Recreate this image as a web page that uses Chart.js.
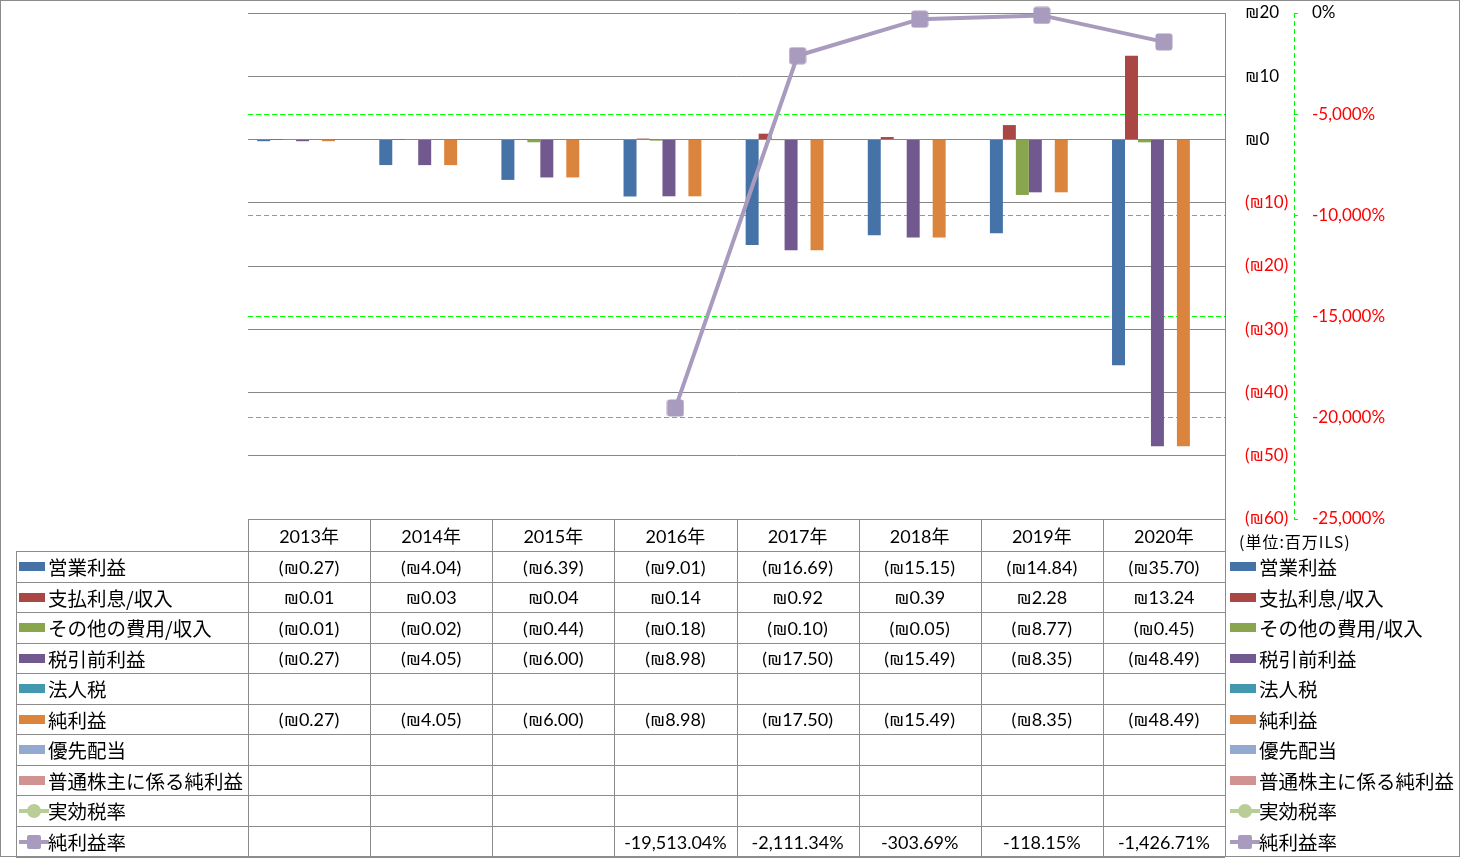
<!DOCTYPE html>
<html>
<head>
<meta charset="utf-8">
<script src="https://cdn.jsdelivr.net/npm/chart.js@4.4.1/dist/chart.umd.min.js"></script>
<style>
html, body { margin: 0; padding: 0; background: #fff; }
#wrap { position: relative; width: 1461px; height: 858px; overflow: hidden; }
#frame { position: absolute; left: 0; top: 0; width: 1458px; height: 855px; border: 1px solid #8c8c8c; }
#chart { position: absolute; left: 0; top: 0; }
.ln { position: absolute; background: #8c8c8c; }
.cell { position: absolute; display: flex; align-items: center; justify-content: center;
        font: 18px Lato, "DejaVu Sans", "Noto Sans CJK JP"; color: #000; white-space: nowrap; }
.lab { position: absolute; display: flex; align-items: center;
       font: 19.5px "Noto Sans CJK JP"; color: #000; white-space: nowrap; }
.sw { display: inline-block; }
#unit { position: absolute; left: 1239px; top: 529px; font: 16px "Noto Sans CJK JP"; letter-spacing: 1px; color: #000; white-space: nowrap; }
</style>
</head>
<body>
<div id="wrap">
  <div id="frame"></div>
  <canvas id="chart" width="1461" height="858"></canvas>
  <div id="table"></div>
  <div id="unit">(単位:百万ILS)</div>
</div>
<script>
// data (百万ILS)
const years = ['2013年', '2014年', '2015年', '2016年', '2017年', '2018年', '2019年', '2020年'];
const operatingIncome = [-0.27, -4.04, -6.39, -9.01, -16.69, -15.15, -14.84, -35.70];
const interestIncome = [0.01, 0.03, 0.04, 0.14, 0.92, 0.39, 2.28, 13.24];
const otherIncome = [-0.01, -0.02, -0.44, -0.18, -0.10, -0.05, -8.77, -0.45];
const pretaxIncome = [-0.27, -4.05, -6.00, -8.98, -17.50, -15.49, -8.35, -48.49];
const incomeTax = [null, null, null, null, null, null, null, null];
const netIncome = [-0.27, -4.05, -6.00, -8.98, -17.50, -15.49, -8.35, -48.49];
const preferredDividends = [null, null, null, null, null, null, null, null];
const netIncomeCommon = [null, null, null, null, null, null, null, null];
const effectiveTaxRate = [null, null, null, null, null, null, null, null];
const netMargin = [null, null, null, -19513.04, -2111.34, -303.69, -118.15, -1426.71];

const series = [
    { label: '営業利益', data: operatingIncome, color: '#4572A7', kind: 'bar' },
    { label: '支払利息/収入', data: interestIncome, color: '#AA4643', kind: 'bar' },
    { label: 'その他の費用/収入', data: otherIncome, color: '#89A54E', kind: 'bar' },
    { label: '税引前利益', data: pretaxIncome, color: '#71588F', kind: 'bar' },
    { label: '法人税', data: incomeTax, color: '#4198AF', kind: 'bar' },
    { label: '純利益', data: netIncome, color: '#DB843D', kind: 'bar' },
    { label: '優先配当', data: preferredDividends, color: '#93A9CF', kind: 'bar' },
    { label: '普通株主に係る純利益', data: netIncomeCommon, color: '#D19392', kind: 'bar' },
    { label: '実効税率', data: effectiveTaxRate, color: '#B9CD96', kind: 'line', marker: 'circle' },
    { label: '純利益率', data: netMargin, color: '#A99BBD', kind: 'line', marker: 'square' }
];

const FONT = "Lato, 'DejaVu Sans', 'Noto Sans CJK JP'";
const GREEN = '#00ff00';

const fmtMoney = v => v == null ? '' : (v < 0 ? '(₪' + Math.abs(v).toFixed(2) + ')' : '₪' + v.toFixed(2));
const fmtPct = v => v == null ? '' : v.toLocaleString('en-US', { minimumFractionDigits: 2, maximumFractionDigits: 2 }) + '%';

// slightly rounded square marker like Excel's
function squareMarker(color) {
    const c = document.createElement('canvas');
    c.width = 18; c.height = 18;
    const g = c.getContext('2d');
    g.fillStyle = color;
    g.beginPath();
    g.roundRect(0.5, 0.5, 17, 17, 3);
    g.fill();
    return c;
}

const datasets = series.map(s => s.kind === 'bar' ? {
    type: 'bar', label: s.label, data: s.data, backgroundColor: s.color,
    yAxisID: 'y', order: 2, categoryPercentage: 0.85, barPercentage: 1.0
} : {
    type: 'line', label: s.label, data: s.data, borderColor: s.color, backgroundColor: s.color,
    borderWidth: 4, pointStyle: s.marker === 'square' ? squareMarker(s.color) : 'circle',
    pointRadius: 9, pointBorderWidth: 0,
    pointBackgroundColor: s.color, yAxisID: 'y2', order: 1, clip: false, spanGaps: false
});

// Excel draws the % axis as a dashed line; Chart.js borders are solid only
const dashedAxis = {
    id: 'dashedAxis',
    afterDraw(chart) {
        const s = chart.scales.y2;
        const ctx = chart.ctx;
        const x = Math.round(s.left) + 0.5;
        ctx.save();
        ctx.strokeStyle = GREEN;
        ctx.lineWidth = 1;
        ctx.setLineDash([5, 3]);
        ctx.beginPath();
        ctx.moveTo(x, s.top);
        ctx.lineTo(x, s.bottom);
        ctx.stroke();
        ctx.restore();
    }
};

new Chart(document.getElementById('chart'), {
    data: { labels: years, datasets: datasets },
    plugins: [dashedAxis],
    options: {
        responsive: false, animation: false,
        layout: { padding: { left: 248, top: 13, right: 27, bottom: 339 } },
        plugins: { legend: { display: false }, tooltip: { enabled: false } },
        scales: {
            x: { display: false, offset: true },
            y: {
                position: 'right', min: -60, max: 20,
                ticks: {
                    stepSize: 10, padding: 20, font: { family: FONT, size: 17 },
                    color: ctx => ctx.tick && ctx.tick.value < 0 ? '#ff0000' : '#000000',
                    callback: v => v < 0 ? '(₪' + (-v) + ')' : '₪' + v
                },
                grid: { color: '#878787', drawTicks: false },
                border: { color: '#878787' },
                afterFit: s => { s.width = 69; s.paddingTop = 0; s.paddingBottom = 0; }
            },
            y2: {
                position: 'right', min: -25000, max: 0,
                ticks: {
                    stepSize: 5000, padding: 14, font: { family: FONT, size: 17 },
                    color: ctx => ctx.tick && ctx.tick.value < 0 ? '#ff0000' : '#000000',
                    callback: v => v.toLocaleString('en-US') + '%'
                },
                grid: {
                    color: ctx => (ctx.tick && (ctx.tick.value === 0 || ctx.tick.value === -25000)) ? 'rgba(0,0,0,0)' : GREEN,
                    tickColor: GREEN, tickLength: 4, drawOnChartArea: true
                },
                border: { display: false, dash: [5, 3] },
                afterFit: s => { s.width = 140; s.paddingTop = 0; s.paddingBottom = 0; }
            }
        }
    }
});

// data table below the plot
const table = document.getElementById('table');
const colX = [];
for (let i = 0; i <= years.length; i++) colX.push(248 + i * (977 / years.length));
const rowY = [519];
for (let i = 0; i <= series.length; i++) rowY.push(Math.round(551 + i * 30.55));

function add(cls, x, y, w, h, html) {
    const d = document.createElement('div');
    d.className = cls;
    d.style.left = x + 'px'; d.style.top = y + 'px';
    d.style.width = w + 'px'; d.style.height = h + 'px';
    if (html != null) d.innerHTML = html;
    table.appendChild(d);
    return d;
}

function swatch(s) {
    if (s.kind === 'bar') {
        return '<span class="sw" style="width:26px;height:9px;background:' + s.color + ';margin-right:3px"></span>';
    }
    const mk = s.marker === 'circle'
        ? '<circle cx="15" cy="8" r="7" fill="' + s.color + '"/>'
        : '<rect x="8" y="1" width="14" height="14" rx="2" fill="' + s.color + '"/>';
    return '<svg width="30" height="16" style="margin-right:-1px"><line x1="0" y1="8" x2="30" y2="8" stroke="' + s.color + '" stroke-width="4"/>' + mk + '</svg>';
}

// grid lines
const bottom = rowY[rowY.length - 1];
add('ln', 248, 519, 977, 1);
for (let r = 1; r < rowY.length; r++) add('ln', 16, rowY[r], 1225 - 16, 1);
add('ln', 16, 551, 1, bottom - 551);
for (let c = 0; c < colX.length; c++) add('ln', Math.round(colX[c]), 519, 1, bottom - 519);

// header
years.forEach((y, c) => add('cell', colX[c], 519, colX[c + 1] - colX[c], 32, y));

// rows
series.forEach((s, r) => {
    const top = rowY[r + 1], h = rowY[r + 2] - rowY[r + 1];
    add('lab', 19, top, 229, h, swatch(s) + '<span>' + s.label + '</span>');
    add('lab', 1230, top, 230, h, swatch(s) + '<span>' + s.label + '</span>');
    const fmt = s.kind === 'line' ? fmtPct : fmtMoney;
    s.data.forEach((v, c) => add('cell', colX[c], top, colX[c + 1] - colX[c], h, fmt(v)));
});
</script>
</body>
</html>
